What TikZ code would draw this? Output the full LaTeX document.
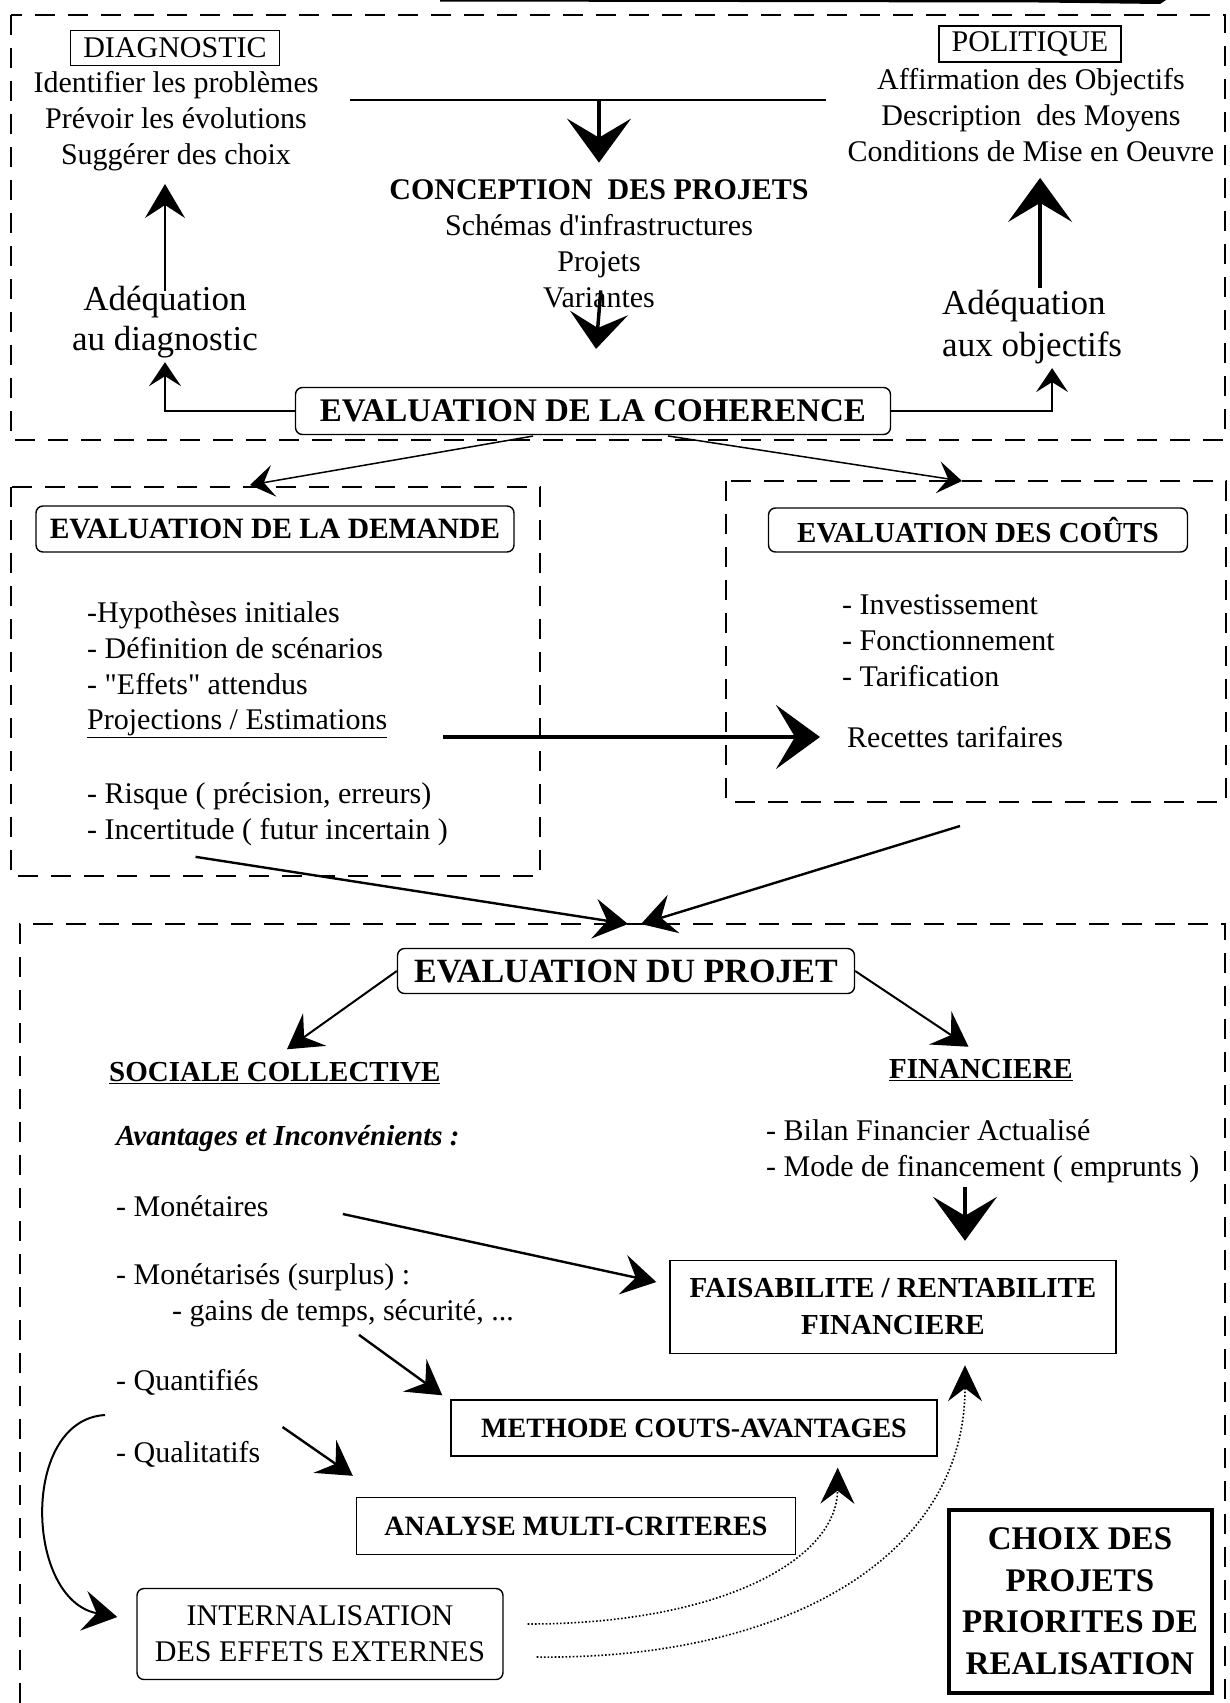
\documentclass[tikz,border=0pt]{standalone}
\usepackage{fontspec}
\setmainfont{Liberation Serif}[Ligatures=TeXOff]
\usepackage{tikz}
\usetikzlibrary{arrows.meta}
\tikzstyle{arrow} = [line width=1.5pt,-{Stealth[length=24pt,width=32pt,inset=10pt]}]
\tikzstyle{midarrow} = [line width=2.4pt,-{Stealth[length=34pt,width=40pt,inset=13pt]}]
\tikzstyle{bigarrow} = [line width=3.5pt,-{Stealth[length=44pt,width=64pt,inset=19pt]}]
\tikzstyle{dotarrow} = [line width=1.6pt,dotted,-{Stealth[length=36pt,width=34pt,inset=13pt]}]
\tikzstyle{dashframe} = [line width=1.8pt,dash pattern=on 20pt off 13pt]
\tikzstyle{rmtext} = [font=\fontsize{30}{36}\selectfont]
\tikzstyle{bftext} = [font=\fontsize{29}{37}\selectfont\bfseries]
\tikzstyle{txt} = [inner sep=4pt,align=center]
\tikzstyle{lst} = [inner sep=4pt,align=left,anchor=west]
\tikzstyle{sqbox} = [draw,line width=1.4pt,inner sep=0pt,align=center]
\tikzstyle{rbox} = [sqbox,rounded corners=7pt]

\begin{document}
\begin{tikzpicture}[x=1pt,y=-1pt]
		\useasboundingbox (0,0) rectangle (1230,1703);
		\fill (440,0) -- (1166,0) -- (1160,4) -- (1040,2.5) -- (440,1.5) -- cycle;
		\draw[dashframe] (11,15) rectangle (1225,440);
		\draw[dashframe] (11,487) rectangle (540,876);
		\draw[dashframe] (726,481) rectangle (1226,802);
		\draw[dashframe] (20,1703) -- (20,924) -- (1225,924) -- (1225,1703);

		\node[sqbox,rmtext,minimum width=209pt,minimum height=35pt] (diag) at (175,48) {DIAGNOSTIC};
		\node[txt,rmtext] (diaglist) at (176,121) {Identifier les problèmes\\Prévoir les évolutions\\Suggérer des choix};
		\node[sqbox,rmtext,minimum width=182pt,minimum height=36pt] (polit) at (1030,44) {POLITIQUE};
		\node[txt,rmtext] (politlist) at (1031,115) {Affirmation des Objectifs\\Description~ des Moyens\\Conditions de Mise en Oeuvre};
		\node[txt,rmtext] (concept) at (599,244) {\textbf{CONCEPTION~ DES PROJETS}\\Schémas d'infrastructures\\Projets\\Variantes};
		\node[txt,font=\fontsize{35}{40}\selectfont] (adeqd) at (165,322) {Adéquation\\au diagnostic};
		\node[lst,font=\fontsize{35}{42}\selectfont] (adeqo) at (938,327) {Adéquation\\aux objectifs};
		\node[rbox,font=\fontsize{33}{38}\selectfont\bfseries,minimum width=595pt,minimum height=47pt] (coher) at (593,411) {EVALUATION DE LA COHERENCE};

		\coordinate (tl) at (350,100);
		\coordinate (tr) at (826,100);
		\coordinate (tm) at (599,100);
		\draw[line width=1.4pt] (tl) -- (tr);
		\draw[bigarrow,shorten >=13pt] (tm) -- (concept.north);
		\draw[bigarrow,-{Stealth[length=36pt,width=58pt,inset=15pt]},shorten <=-22pt,shorten >=38pt] (concept.south) -- (coher.north);
		\draw[bigarrow,shorten <=-2pt,shorten >=12pt] ([xshift=8pt]adeqo.north) -- ([xshift=8pt]adeqo.north |- politlist.south);
		\draw[midarrow,line width=2pt,shorten <=-9pt,shorten >=9pt] (adeqd.north) -- (adeqd.north |- diaglist.south);
		\draw[arrow] (coher.west) -| (adeqd.south);
		\draw[arrow] (coher.east) -| ([xshift=20pt]adeqo.south);

		\coordinate (demin) at (250,485);
		\coordinate (coutin) at (962,481);
		\draw[arrow,shorten <=5pt] ([xshift=-55pt]coher.south) -- (demin);
		\draw[arrow,shorten <=5pt] ([xshift=70pt]coher.south) -- (coutin);

		\node[rbox,font=\fontsize{29.5}{37}\selectfont\bfseries,minimum width=478pt,minimum height=46pt] (demande) at (275,529) {EVALUATION DE LA DEMANDE};
		\node[lst,rmtext] (demlist) at (83,648) {-Hypothèses initiales\\- Définition de scénarios\\- "Effets" attendus};
		\node[lst,rmtext] (proj) at (83,724) {\underline{Projections / Estimations}};
		\node[lst,rmtext] (risk) at (83,814) {- Risque ( précision, erreurs)\\- Incertitude ( futur incertain )};
		\node[rbox,bftext,minimum width=419pt,minimum height=44pt] (couts) at (978,530) {EVALUATION DES COÛTS};
		\node[lst,rmtext] (coutlist) at (838,641) {- Investissement\\- Fonctionnement\\- Tarification};
		\node[lst,rmtext] (recettes) at (843,737) {Recettes tarifaires};
		\draw[bigarrow,shorten <=52pt,shorten >=23pt] (proj.east |- recettes.west) -- (recettes.west);

		\coordinate (meetl) at (628,924);
		\coordinate (meetr) at (641,924);
		\coordinate (coutout) at (960,826);
		\draw[midarrow] ([xshift=-72pt,yshift=-7pt]risk.south) -- (meetl);
		\draw[midarrow] (coutout) -- (meetr);

		\node[rbox,font=\fontsize{34}{38}\selectfont\bfseries,minimum width=457pt,minimum height=45pt] (projet) at (626,971) {EVALUATION DU PROJET};
		\node[lst,bftext] (sociale) at (105,1073) {\underline{SOCIALE COLLECTIVE}};
		\node[txt,bftext] (financiere) at (981,1070) {\underline{FINANCIERE}};
		\draw[midarrow,line width=2pt,shorten >=15pt] (projet.west) -- (sociale.north);
		\draw[midarrow,line width=2pt,shorten >=15pt] (projet.east) -- (financiere.north);

		\node[lst,font=\fontsize{29}{35}\selectfont\bfseries\itshape] (avantages) at (112,1138) {Avantages et Inconvénients :};
		\node[lst,rmtext] (mon) at (112,1206) {- Monétaires};
		\node[lst,rmtext] (monet) at (112,1277) {- Monétarisés (surplus) :};
		\node[lst,rmtext] (gains) at (168,1313) {- gains de temps, sécurité, ...};
		\node[lst,rmtext] (quant) at (112,1382) {- Quantifiés};
		\node[lst,rmtext] (qual) at (112,1454) {- Qualitatifs};
		\node[lst,rmtext] (bilan) at (762,1151) {- Bilan Financier Actualisé\\- Mode de financement ( emprunts )};

		\node[sqbox,bftext,minimum width=446pt,minimum height=93pt] (faisa) at (893,1307) {FAISABILITE / RENTABILITE\\FINANCIERE};
		\node[sqbox,font=\fontsize{28}{34}\selectfont\bfseries,minimum width=486pt,minimum height=56pt] (methode) at (694,1428) {METHODE COUTS-AVANTAGES};
		\node[sqbox,font=\fontsize{28}{34}\selectfont\bfseries,minimum width=439pt,minimum height=57pt] (analyse) at (576,1526) {ANALYSE MULTI-CRITERES};
		\node[rbox,rmtext,minimum width=366pt,minimum height=91pt] (intern) at (320,1634) {INTERNALISATION\\DES EFFETS EXTERNES};
		\node[sqbox,font=\fontsize{33}{41.5}\selectfont\bfseries,line width=4pt,minimum width=263pt,minimum height=183pt] (choix) at (1080,1601) {CHOIX DES\\PROJETS\\PRIORITES DE\\REALISATION};

		\draw[bigarrow,shorten >=19pt] ([xshift=72pt]faisa.north |- bilan.south) -- ([xshift=72pt]faisa.north);
		\draw[midarrow] ([xshift=70pt,yshift=-8pt]mon.east) -- ([xshift=-13pt,yshift=25pt]faisa.west);
		\draw[midarrow] ([xshift=16pt,yshift=-4pt]gains.south) -- ([xshift=-8pt,yshift=4pt]methode.north west);
		\draw[midarrow] ([xshift=18pt,yshift=27pt]qual.east) -- ([xshift=-3pt,yshift=21pt]analyse.north west);
		\draw[midarrow,line width=2pt] ([xshift=-7pt,yshift=39pt]qual.west) .. controls (20,1420) and (25,1600) .. ([xshift=-19pt,yshift=17pt]intern.west);
		\draw[dotarrow] ([xshift=24pt,yshift=10pt]intern.east) .. controls (720,1624) and (837,1560) .. ([xshift=-100pt,yshift=-11pt]methode.south east);
		\draw[dotarrow] ([xshift=33pt,yshift=-23pt]intern.east) .. controls (780,1660) and (965,1560) .. ([xshift=72pt,yshift=-11pt]faisa.south);
	\end{tikzpicture}
\end{document}
